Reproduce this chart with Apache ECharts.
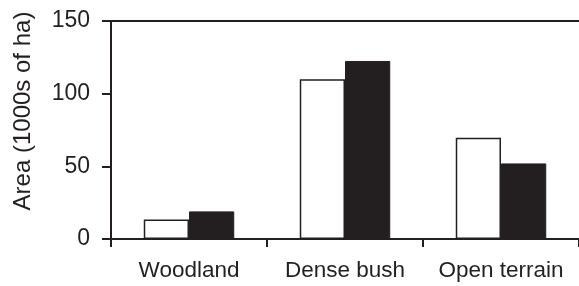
<!DOCTYPE html>
<html>
<head>
<meta charset="utf-8">
<script src="https://cdn.jsdelivr.net/npm/echarts@6/dist/echarts.min.js"></script>
<style>
    html, body {margin: 0; padding: 0; background: #fff;}
    #main {width: 579px; height: 286px;}
</style>
</head>
<body>
<div id="main"></div>
<script>
// 数据
var categories = ['Woodland', 'Dense bush', 'Open terrain'];
var openValues = [13.5, 110, 69.7];   // white bars
var filledValues = [19, 122.5, 52];   // black bars
var yTicks = [0, 50, 100, 150];

var ink = '#231f20';
var font = 'Liberation Sans, Arial, sans-serif';

var myChart = echarts.init(document.getElementById('main'));
var option = {
    animation: false,
    backgroundColor: '#fff',
    grid: {left: 111, top: 21, right: 0, bottom: 47},
    xAxis: [
        {
            type: 'category',
            data: categories,
            axisLine: {lineStyle: {color: ink, width: 2}},
            axisTick: {show: true, interval: 0, length: 8, lineStyle: {color: ink, width: 2}},
            axisLabel: {
                color: ink, fontSize: 22.5, fontFamily: font, margin: 20,
                interval: 0, hideOverlap: false
            }
        },
        {
            // top frame line
            type: 'category',
            position: 'top',
            data: categories,
            axisLine: {show: true, lineStyle: {color: ink, width: 2}},
            axisTick: {show: false},
            axisLabel: {show: false}
        }
    ],
    yAxis: {
        type: 'value',
        min: yTicks[0],
        max: yTicks[yTicks.length - 1],
        interval: 50,
        axisLine: {show: true, lineStyle: {color: ink, width: 2}},
        axisTick: {show: true, length: 9, lineStyle: {color: ink, width: 2}},
        axisLabel: {color: ink, fontSize: 23, fontFamily: font, margin: 21},
        splitLine: {show: false}
    },
    graphic: [{
        type: 'text',
        x: 23,
        y: 111,
        rotation: Math.PI / 2,
        style: {
            text: 'Area (1000s of ha)',
            fill: ink,
            font: '24px ' + font,
            align: 'center',
            verticalAlign: 'middle'
        }
    }],
    series: [
        {
            type: 'bar',
            data: openValues,
            barGap: '0%',
            barCategoryGap: '42%',
            itemStyle: {color: '#fff', borderColor: ink, borderWidth: 1.5}
        },
        {
            type: 'bar',
            data: filledValues,
            barGap: '0%',
            barCategoryGap: '42%',
            itemStyle: {color: ink, borderColor: ink, borderWidth: 1}
        }
    ]
};
myChart.setOption(option);
</script>
</body>
</html>
